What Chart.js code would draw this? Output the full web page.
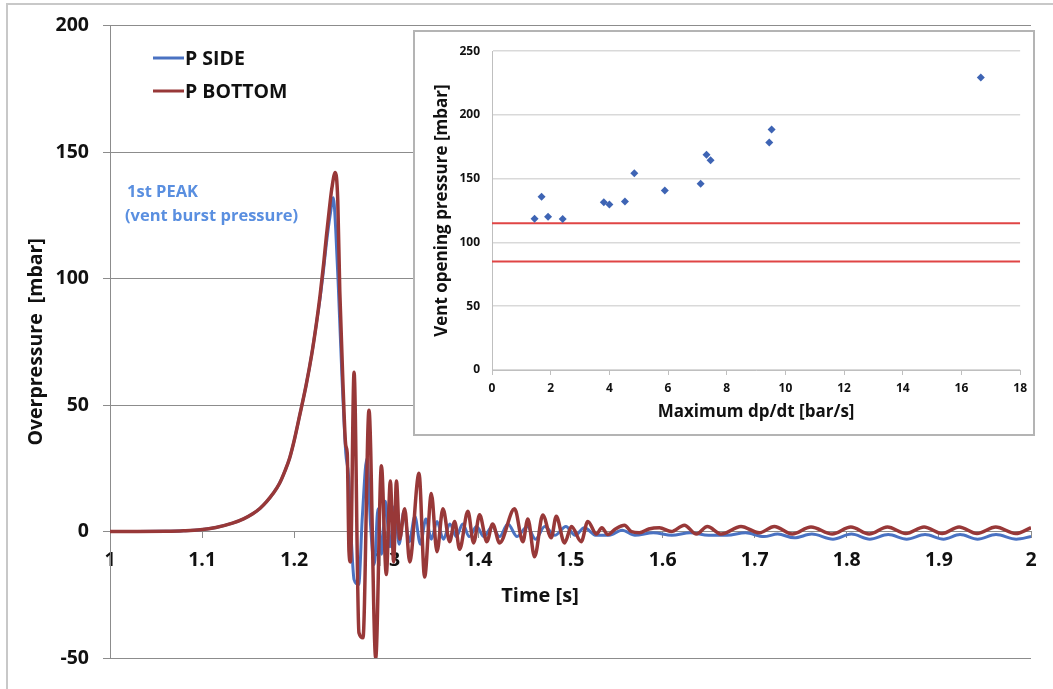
<!DOCTYPE html>
<html>
<head>
<meta charset="utf-8">
<script src="https://cdn.jsdelivr.net/npm/chart.js@4.4.1/dist/chart.umd.min.js"></script>
<style>
  body { margin: 0; background: #fff; }
  #frame { position: absolute; left: 6px; top: 3px; width: 1100px; height: 750px; border: 2px solid #c8c8c8; box-sizing: border-box; }
  #main { position: absolute; left: 0; top: 0; }
  #insetBox { position: absolute; left: 413px; top: 30px; width: 622px; height: 406px; border: 2px solid #b4b4b4; box-sizing: border-box; background: #fff; }
  #inset { position: absolute; left: 0; top: 0; }
</style>
</head>
<body>
<div id="frame"></div>
<canvas id="main" width="1053" height="689"></canvas>
<div id="insetBox"><canvas id="inset" width="618" height="402"></canvas></div>
<script>
// main chart: pressure traces
let timeBottom = [1.000, 1.030, 1.060, 1.080, 1.098, 1.115, 1.133, 1.145, 1.155, 1.163, 1.170, 1.177, 1.184, 1.190, 1.195, 1.200, 1.206, 1.213, 1.219, 1.224, 1.228, 1.232, 1.235, 1.238, 1.241, 1.2446, 1.2473, 1.2495, 1.2530, 1.2560, 1.2576, 1.2595, 1.2611, 1.2650, 1.2703, 1.2747, 1.2812, 1.2885, 1.2947, 1.3000, 1.3044, 1.3080, 1.3110, 1.3145, 1.3200, 1.3254, 1.3355, 1.3416, 1.3489, 1.3550, 1.3615, 1.3688, 1.3742, 1.3796, 1.3886, 1.3948, 1.4013, 1.4092, 1.4154, 1.4230, 1.4393, 1.4483, 1.4537, 1.4610, 1.4699, 1.4791, 1.4845, 1.4935, 1.5011, 1.5116, 1.5188, 1.5282, 1.5340, 1.5405, 1.5488, 1.5586, 1.5660, 1.5748, 1.5850, 1.5965, 1.6095, 1.6236, 1.6367, 1.6486, 1.6638, 1.6851, 1.7050, 1.7213, 1.7408, 1.7611, 1.7842, 1.8044, 1.8243, 1.8441, 1.8641, 1.8839, 1.9035, 1.9219, 1.9414, 1.9617, 1.9834, 2.0000]
let pBottom = [0, 0, 0.1, 0.3, 0.7, 1.6, 3.3, 5.0, 7.0, 9.2, 11.8, 15, 19, 24, 29, 36, 46, 58, 70, 82, 93, 106, 117, 127, 136, 142, 131, 95, 58, 34, 31, -8, -12, 63, -40, -42, 48, -50, 26, -17, 20, -12, 20, -3, 9, -12, 23, -18, 15, -8, 9, -4, 4, -7, 8, -4.5, 6.6, -4, 3, -4.5, 9, -4, 5, -10, 6.5, -2.5, 6, -4.5, 2, -4, 4, -1, 1.5, -1.2, 1, 2.5, 0, -0.5, 1, 1.5, 0, 2.5, -1, 2, -1, 2, -0.5, 2, -1, 1.8, -1, 1.8, -1, 1.8, -0.8, 1.8, -0.8, 1.8, -0.8, 1.8, -0.8, 1.5]

let timeSide = [1.000, 1.030, 1.060, 1.080, 1.098, 1.115, 1.133, 1.145, 1.155, 1.163, 1.170, 1.177, 1.184, 1.190, 1.195, 1.200, 1.206, 1.213, 1.219, 1.224, 1.228, 1.232, 1.235, 1.239, 1.2425, 1.2450, 1.2480, 1.2520, 1.2560, 1.2590, 1.2620, 1.2650, 1.2700, 1.2740, 1.2790, 1.2830, 1.2870, 1.2910, 1.2950, 1.2990, 1.3040, 1.3090, 1.3140, 1.3190, 1.3250, 1.3310, 1.3370, 1.3430, 1.3490, 1.3550, 1.3620, 1.3690, 1.3760, 1.3830, 1.3900, 1.3980, 1.4060, 1.4150, 1.4230, 1.4320, 1.4420, 1.4530, 1.4620, 1.4720, 1.4830, 1.4950, 1.5050, 1.5150, 1.5280, 1.5420, 1.5560, 1.5700, 1.5900, 1.6100, 1.6300, 1.6500, 1.6700, 1.6900, 1.7100, 1.7250, 1.7430, 1.7620, 1.7850, 1.8050, 1.8250, 1.8450, 1.8650, 1.8850, 1.9050, 1.9230, 1.9420, 1.9620, 1.9840, 2.0000]
let pSide = [0, 0, 0.1, 0.3, 0.7, 1.6, 3.3, 5.0, 7.0, 9.2, 11.8, 15, 19, 24, 29, 36, 46, 58, 70, 82, 92, 104, 114, 125, 132, 120, 96, 60, 31, 22, -3, -19, -21, 6, 29, 2, -13, 9, -9, 12, -6, 10, -5, 8, -4, 6, -5, 5, -3, 4, -3, 3, -2, 3, -2, 2, -2, 2, -2, 3, -2, 2, -3, 2, -1.5, 2, -1.5, 1.5, -1.5, -1.5, 0.5, -1.5, -0.5, -1.5, -0.5, -1.5, -1.5, -0.5, -2, -1, -2.5, -1, -3, -1, -3, -1.2, -3, -1.2, -3, -1.2, -3, -1.2, -3, -2]

let seriesNames = ['P SIDE', 'P BOTTOM']
let seriesColors = ['#4a72c2', '#983838']
let peakNote = ['1st PEAK', '(vent burst pressure)']

// inset: vent opening pressure vs max dp/dt
let dpdt = [1.45, 1.69, 1.91, 2.41, 3.81, 4.00, 4.53, 4.85, 5.89, 7.11, 7.31, 7.45, 9.45, 9.53, 16.66]
let ventPressure = [118.7, 135.9, 120.2, 118.4, 131.6, 129.8, 132.1, 154.3, 140.7, 146, 168.7, 164.4, 178.5, 188.6, 229.3]
let limitX = [0, 18]
let upperLimit = [115, 115]
let lowerLimit = [85, 85]

const FONT = '"Open Sans", sans-serif'

function toPoints(xs, ys) {
    let pts = []
    for (let i = 0; i < xs.length; i++) {
        pts.push({x: xs[i], y: ys[i]})
    }
    return pts
}

// legend and peak note drawn inside the plot
const notesPlugin = {
    id: 'notes',
    afterDraw(chart) {
        const ctx = chart.ctx
        ctx.save()
        ctx.textBaseline = 'middle'
        ctx.font = 'bold 19.5px ' + FONT
        for (let i = 0; i < seriesNames.length; i++) {
            let y = 58 + i * 33
            ctx.strokeStyle = seriesColors[i]
            ctx.lineWidth = 3
            ctx.beginPath()
            ctx.moveTo(153, y)
            ctx.lineTo(184, y)
            ctx.stroke()
            ctx.fillStyle = '#111'
            ctx.fillText(seriesNames[i], 185, y + 1)
        }
        ctx.font = 'bold 16.5px ' + FONT
        ctx.fillStyle = '#5a8fe0'
        ctx.fillText(peakNote[0], 127, 192)
        ctx.fillText(peakNote[1], 125, 216)
        ctx.font = 'bold 20px ' + FONT
        ctx.fillStyle = '#111'
        ctx.textAlign = 'center'
        ctx.fillText('Time [s]', 540, 596)
        ctx.restore()
    }
}

var mainChart = new Chart(document.getElementById('main'), {
    type: 'line',
    data: {
        datasets: [{
            label: seriesNames[0],
            data: toPoints(timeSide, pSide),
            borderColor: seriesColors[0],
            borderWidth: 3,
            pointRadius: 0,
            cubicInterpolationMode: 'monotone',
            order: 1
        }, {
            label: seriesNames[1],
            data: toPoints(timeBottom, pBottom),
            borderColor: seriesColors[1],
            borderWidth: 3.5,
            pointRadius: 0,
            cubicInterpolationMode: 'monotone',
            order: 0
        }]
    },
    options: {
        responsive: false,
        animation: false,
        layout: {padding: {left: 0, top: 20, right: 22, bottom: 31}},
        plugins: {legend: {display: false}, tooltip: {enabled: false}},
        scales: {
            x: {
                type: 'linear',
                position: {y: 0},
                min: 1, max: 2,
                grid: {drawOnChartArea: false, drawTicks: true, tickLength: 6, color: '#8c8c8c'},
                border: {color: '#8c8c8c'},
                ticks: {
                    stepSize: 0.1, padding: 11, color: '#111',
                    font: {family: FONT, size: 19.5, weight: 'bold'},
                    callback: function(value) { return String(Math.round(value * 10) / 10) }
                }
            },
            y: {
                min: -50, max: 200,
                afterFit(scale) { scale.width = 110 },
                grid: {color: '#8c8c8c', tickLength: 7},
                border: {color: '#8c8c8c'},
                ticks: {stepSize: 50, padding: 14, color: '#111', font: {family: FONT, size: 19.5, weight: 'bold'}},
                title: {display: true, text: 'Overpressure  [mbar]', color: '#111', padding: {top: 25, bottom: 0}, font: {family: FONT, size: 19.5, weight: 'bold'}}
            }
        }
    },
    plugins: [notesPlugin]
});

var insetChart = new Chart(document.getElementById('inset'), {
    type: 'scatter',
    data: {
        datasets: [{
            label: 'Vent opening pressure',
            data: toPoints(dpdt, ventPressure),
            pointStyle: 'rectRot',
            pointRadius: 4,
            backgroundColor: '#3e64b4',
            borderColor: '#3e64b4',
            borderWidth: 0
        }, {
            label: 'upper',
            type: 'line',
            data: toPoints(limitX, upperLimit),
            borderColor: '#e04545',
            borderWidth: 2,
            pointRadius: 0
        }, {
            label: 'lower',
            type: 'line',
            data: toPoints(limitX, lowerLimit),
            borderColor: '#e04545',
            borderWidth: 2,
            pointRadius: 0
        }]
    },
    options: {
        responsive: false,
        animation: false,
        layout: {padding: {left: 0, top: 8, right: 10, bottom: 0}},
        plugins: {legend: {display: false}, tooltip: {enabled: false}},
        scales: {
            x: {
                min: 0, max: 18,
                afterFit(scale) { scale.height = 64 },
                grid: {drawOnChartArea: false, tickLength: 5, color: '#bfbfbf'},
                border: {color: '#bfbfbf'},
                ticks: {stepSize: 2, padding: 6, color: '#111', font: {family: FONT, size: 12, weight: 'bold'}},
                title: {display: true, text: 'Maximum dp/dt [bar/s]', color: '#111', padding: {top: 0, bottom: 12}, font: {family: FONT, size: 17, weight: 'bold'}}
            },
            y: {
                min: 0, max: 250,
                afterFit(scale) { scale.width = 77 },
                grid: {color: '#d9d9d9', lineWidth: 1.5, drawTicks: false},
                border: {color: '#bfbfbf'},
                ticks: {stepSize: 50, padding: 12, color: '#111', font: {family: FONT, size: 12, weight: 'bold'}},
                title: {display: true, text: 'Vent opening pressure [mbar]', color: '#111', padding: {top: 17, bottom: 0}, font: {family: FONT, size: 17, weight: 'bold'}}
            }
        }
    }
});
</script>
</body>
</html>
